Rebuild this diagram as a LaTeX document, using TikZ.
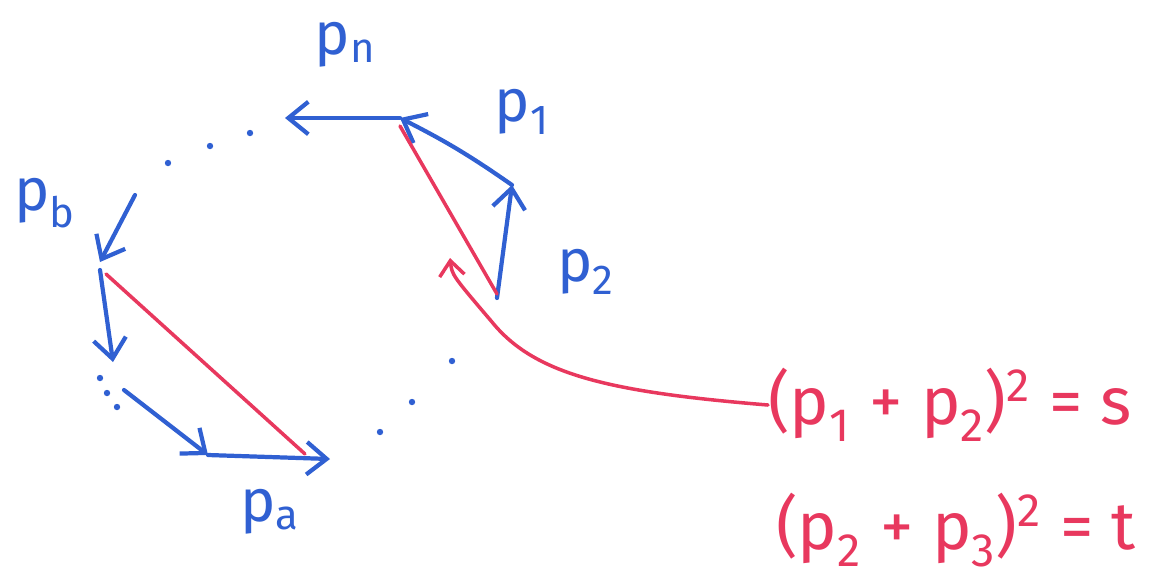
\documentclass[tikz,border=0pt]{standalone}
\usepackage{fontspec}
\setmainfont{Fira Sans}
\usepackage{xcolor}
\definecolor{penBlue}{HTML}{3060D2}
\definecolor{penRed}{HTML}{E8385E}
\usepackage{tikz}
\usetikzlibrary{
    arrows.meta,
    positioning,
    calc
}
\tikzset{
    % blue momentum arrows
    mom/.style={
        -{Straight Barb[length=4mm, width=6.5mm, line width=2.4pt]},
        line width=2.4pt,
        draw=penBlue,
        line cap=round,
    },
    % red invariant lines
    cut/.style={
        line width=2pt,
        draw=penRed,
        line cap=round,
    },
    % momentum labels
    plabel/.style={
        font=\fontsize{34}{38}\selectfont,
        text=penBlue,
        inner sep=0pt,
    },
    % Mandelstam formulas
    formula/.style={
        font=\fontsize{38}{42}\selectfont,
        text=penRed,
        inner sep=0pt,
        anchor=west,
    },
}
\newcommand{\sqr}{\raisebox{4pt}{\textsuperscript{2}}}

\begin{document}
\begin{tikzpicture}[x=0.02cm, y=-0.02cm]
    \useasboundingbox (0,0) rectangle (1162,576);

    % corner points of the polygon
    \coordinate (top) at (400,118);
    \coordinate (pnTip) at (285,118);
    \coordinate (mid) at (512,185);
    \coordinate (bot) at (497,298);
    \coordinate (pbStart) at (135,195);
    \coordinate (pbEnd) at (100,262);
    \coordinate (downEnd) at (113,362);
    \coordinate (diagStart) at (124,390);
    \coordinate (paStart) at (208,455);
    \coordinate (paEnd) at (330,459);

    % arrows round the loop
    \draw [mom] (bot) -- (mid);
    \draw [mom] (mid) to[bend right=4] (top);
    \draw [mom] (top) -- (pnTip);
    \draw [mom] (pbStart) -- (pbEnd);
    \draw [mom] ($(pbEnd)+(0,8)$) -- (downEnd);
    \draw [mom] (diagStart) -- (paStart);
    \draw [mom] (paStart) -- (paEnd);

    % dots for the omitted legs
    \foreach \pt in {(250,133), (210,146), (168,163),
                     (100,378), (107,393), (117,407),
                     (452,361), (412,402), (380,432)}
        \fill [penBlue] \pt circle (3.2);

    % red lines
    \draw [cut] (top) ++(0,8) -- ($(bot)+(0,-4)$);
    \draw [cut] ($(pbEnd)+(6,12)$) -- (305,454);

    % labels
    \node (pn) [plabel] at (345,45) {p\textsubscript{n}};
    \node (p1) [plabel] at (522,112) {p\textsubscript{1}};
    \node (pb) [plabel] at (45,203) {p\textsubscript{b}};
    \node (p2) [plabel] at (586,272) {p\textsubscript{2}};
    \node (pa) [plabel] at (270,512) {p\textsubscript{a}};

    % formulas
    \node (sform) [formula] at (768,405)
        {(p\textsubscript{1}\;+\;p\textsubscript{2})\sqr\;=\;s};
    \node (tform) [formula] at (776,530)
        {(p\textsubscript{2}\;+\;p\textsubscript{3})\sqr\;=\;t};

    % pointer to the s line
    \coordinate (sTip) at (450,258);
    \draw [cut, -{Straight Barb[length=3mm, width=5mm, line width=2pt]}]
        (sform.west) .. controls (610,392) and (535,375) .. (492,322)
        .. controls (452,275) .. (sTip);
\end{tikzpicture}
\end{document}
